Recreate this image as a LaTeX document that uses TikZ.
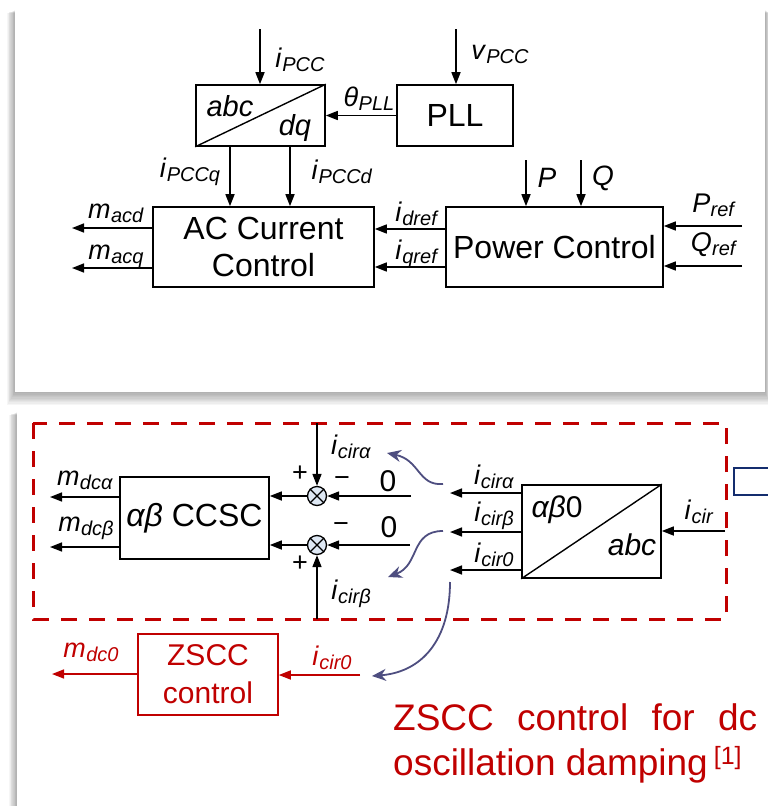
\documentclass[tikz,border=0pt]{standalone}
\usepackage{fontspec}
\setmainfont{Liberation Sans}
\usetikzlibrary{arrows.meta,calc}
\definecolor{myred}{RGB}{192,0,0}
\definecolor{curvec}{RGB}{78,78,128}
\definecolor{navyb}{RGB}{20,45,110}
\definecolor{sumfill}{RGB}{222,232,244}
\newcommand{\sig}[2]{\textit{#1}\kern0.3pt\raisebox{-4pt}{\fontsize{20}{20}\selectfont\textit{#2}}}
\begin{document}
\begin{tikzpicture}[x=1pt,y=-1pt,
  box/.style={draw, line width=1.6pt, inner sep=0pt, fill=white},
  conn/.style={line width=1.5pt, -{Triangle[length=12pt,width=9pt]}},
  rconn/.style={conn, myred},
  crv/.style={curvec, line width=1.8pt, -{Stealth[length=14pt,width=12pt]}},
  lab/.style={inner sep=0pt, font=\fontsize{27}{27}\selectfont},
  sgn/.style={inner sep=0pt, font=\fontsize{27}{27}\selectfont},
  big/.style={inner sep=0pt, font=\fontsize{32}{37}\selectfont, align=center},
  ital/.style={inner sep=0pt, font=\fontsize{30}{30}\selectfont\itshape},
]
\useasboundingbox (0,0) rectangle (768,806);
\clip (0,0) rectangle (768,806);
% cards with shadows
\foreach \i in {1,...,10}{
  \fill[black, opacity=0.035] (15-0.8*\i, 10+0.3*\i) rectangle (765+0.5*\i, 392+1.3*\i);
}
\fill[white] (15,10) rectangle (765,392);
\foreach \i in {1,...,10}{
  \fill[black, opacity=0.035] (17-0.8*\i, 412+0.3*\i) rectangle (800,830);
}
\fill[white] (17,410) rectangle (800,830);

% ---------------- top panel ----------------
\node[box, minimum width=129pt, minimum height=61pt] (cv1) at (260.5,115.5) {};
\draw[line width=1.4pt] (cv1.south west) -- (cv1.north east);
\node[ital, font=\fontsize{29}{29}\selectfont\itshape] (abc1) at (230,106) {abc};
\node[ital, font=\fontsize{29}{29}\selectfont\itshape] (dq1) at (295,128) {dq};
\node[box, minimum width=116pt, minimum height=61pt, font=\fontsize{32}{32}\selectfont] (pll) at (455,115.5) {PLL};
\node[box, big, minimum width=221pt, minimum height=80pt] (acc) at (263.5,247) {AC Current\\Control};
\node[box, big, minimum width=217pt, minimum height=80pt] (pc) at (554.5,247) {Power Control};

\coordinate (ipcc) at (260,29);
\draw[conn] (ipcc) -- (ipcc |- cv1.north);
\node[lab] (lipcc) at (300,60) {\sig{i}{PCC}};
\coordinate (vpcc) at (456,29);
\draw[conn] (vpcc) -- (vpcc |- pll.north);
\node[lab] (lvpcc) at (500,54) {\sig{v}{PCC}};
\draw[conn] (pll.west) -- (cv1.east);
\node[lab] (ltheta) at (369,99) {\sig{θ}{PLL}};

\draw[conn] ([xshift=-30.5pt]cv1.south) -- ([xshift=-30.5pt]cv1.south |- acc.north);
\draw[conn] ([xshift=29.5pt]cv1.south) -- ([xshift=29.5pt]cv1.south |- acc.north);
\node[lab] (lipccq) at (190,172) {\sig{i}{PCCq}};
\node[lab] (lipccd) at (342,172) {\sig{i}{PCCd}};

\coordinate (pin) at (526,160);
\draw[conn] (pin) -- (pin |- pc.north);
\coordinate (qin) at (581,160);
\draw[conn] (qin) -- (qin |- pc.north);
\node[lab, font=\fontsize{28}{28}\selectfont\itshape] (lP) at (547,178) {P};
\node[lab, font=\fontsize{28}{28}\selectfont\itshape] (lQ) at (603,178) {Q};

\draw[conn] ([yshift=18pt]pc.west) -- ([yshift=18pt]pc.west -| acc.east);
\draw[conn] ([yshift=-20pt]pc.west) -- ([yshift=-20pt]pc.west -| acc.east);
\node[lab] (lidref) at (417,214) {\sig{i}{dref}};
\node[lab] (liqref) at (417,254) {\sig{i}{qref}};

\coordinate (macd) at (72,228);
\draw[conn] (macd -| acc.west) -- (macd);
\coordinate (macq) at (72,268);
\draw[conn] (macq -| acc.west) -- (macq);
\node[lab] (lmacd) at (116,213) {\sig{m}{acd}};
\node[lab] (lmacq) at (116,256) {\sig{m}{acq}};

\coordinate (pref) at (742,226);
\draw[conn] (pref) -- (pref -| pc.east);
\coordinate (qref) at (742,266);
\draw[conn] (qref) -- (qref -| pc.east);
\node[lab] (lpref) at (714,205) {\sig{P}{ref}};
\node[lab] (lqref) at (714,245) {\sig{Q}{ref}};

% ---------------- bottom panel ----------------
\draw[myred, line width=3pt, dash pattern=on 16pt off 12pt] (33,423) rectangle (726,619);
\node[draw=navyb, line width=2pt, fill=white, minimum width=60pt, minimum height=27pt, inner sep=0pt, anchor=north west] (bluebox) at (733,467) {};

\node[box, big, minimum width=149pt, minimum height=82pt] (ccsc) at (194.5,518) {\textit{αβ} CCSC};
\node[circle, draw, fill=sumfill, line width=1.3pt, minimum size=19pt, inner sep=0pt] (s1) at (317,496) {};
\draw[line width=1.3pt] (s1.north west) -- (s1.south east) (s1.north east) -- (s1.south west);
\node[circle, draw, fill=sumfill, line width=1.3pt, minimum size=19pt, inner sep=0pt] (s2) at (317,545) {};
\draw[line width=1.3pt] (s2.north west) -- (s2.south east) (s2.north east) -- (s2.south west);

\draw[conn] (s1.west) -- (s1.west -| ccsc.east);
\draw[conn] (s2.west) -- (s2.west -| ccsc.east);

\coordinate (mda) at (50,497);
\draw[conn] (mda -| ccsc.west) -- (mda);
\coordinate (mdb) at (50,547);
\draw[conn] (mdb -| ccsc.west) -- (mdb);
\node[lab] (lmda) at (85,480) {\sig{m}{dcα}};
\node[lab] (lmdb) at (86,528) {\sig{m}{dcβ}};

\coordinate (ica) at (317,423);
\draw[conn] (ica) -- (s1.north);
\coordinate (icb) at (317,619);
\draw[conn] (icb) -- (s2.south);
\node[lab] (lica) at (351,447) {\sig{i}{cirα}};
\node[lab] (licb) at (351,594) {\sig{i}{cirβ}};

\coordinate (z1) at (411,496);
\draw[conn] (z1) -- (s1.east);
\coordinate (z2) at (410,545);
\draw[conn] (z2) -- (s2.east);
\node[sgn, font=\fontsize{30}{30}\selectfont] (zero1) at (388,481) {0};
\node[sgn, font=\fontsize{30}{30}\selectfont] (zero2) at (389,527) {0};
\node[sgn] (p1) at (300,474) {+};
\node[sgn] (m1) at (342,482) {−};
\node[sgn] (m2) at (341,528) {−};
\node[sgn] (p2) at (300,564) {+};

\node[box, minimum width=139pt, minimum height=93pt] (cv2) at (591.5,531.5) {};
\draw[line width=1.4pt] (cv2.south west) -- (cv2.north east);
\node[ital] (ab0) at (557,510) {αβ\upshape 0};
\node[ital] (abc2) at (632,545) {abc};

\coordinate (oa) at (450,493);
\draw[conn] (oa -| cv2.west) -- (oa);
\coordinate (ob) at (450,532);
\draw[conn] (ob -| cv2.west) -- (ob);
\coordinate (oz) at (450,570);
\draw[conn] (oz -| cv2.west) -- (oz);
\node[lab] (loa) at (494,477) {\sig{i}{cirα}};
\node[lab] (lob) at (494,516) {\sig{i}{cirβ}};
\node[lab] (loz) at (494,555) {\sig{i}{cir0}};

\coordinate (icir) at (725,531);
\draw[conn] (icir) -- (icir -| cv2.east);
\node[lab] (licir) at (699,512) {\sig{i}{cir}};

% curved arrows
\coordinate (c1s) at (443,484);
\coordinate (c1e) at (387,453);
\draw[crv] (c1s) .. controls (418,486) and (420,460) .. (c1e);
\coordinate (c2s) at (443,531);
\coordinate (c2e) at (388,577);
\draw[crv] (c2s) .. controls (410,531) and (420,565) .. (c2e);
\coordinate (c3s) at (450,582);
\coordinate (c3e) at (372,676);
\draw[crv] (c3s) .. controls (450,640) and (422,672) .. (c3e);

% ZSCC
\node[draw=myred, line width=1.5pt, fill=white, minimum width=140pt, minimum height=81pt, inner sep=0pt, text=myred, font=\fontsize{30}{38}\selectfont, align=center] (zscc) at (208,674.5) {ZSCC\\control};
\coordinate (ric0) at (360,675);
\draw[rconn] (ric0) -- (ric0 -| zscc.east);
\coordinate (mdc0) at (52,674);
\draw[rconn] (mdc0 -| zscc.west) -- (mdc0);
\node[lab, text=myred] (lmdc0) at (91,652) {\sig{m}{dc0}};
\node[lab, text=myred] (lric0) at (332,658) {\sig{i}{cir0}};

\node[inner sep=0pt, anchor=base west, text=myred, font=\fontsize{37}{37}\selectfont] (t1) at (393,730) {\makebox[364pt][l]{ZSCC\hfill control\hfill for\hfill dc}};
\node[inner sep=0pt, anchor=base west, text=myred, font=\fontsize{37}{37}\selectfont] (t2) at (393,775) {oscillation damping\kern6pt\raisebox{11pt}{\fontsize{25}{25}\selectfont[1]}};
\end{tikzpicture}
\end{document}
